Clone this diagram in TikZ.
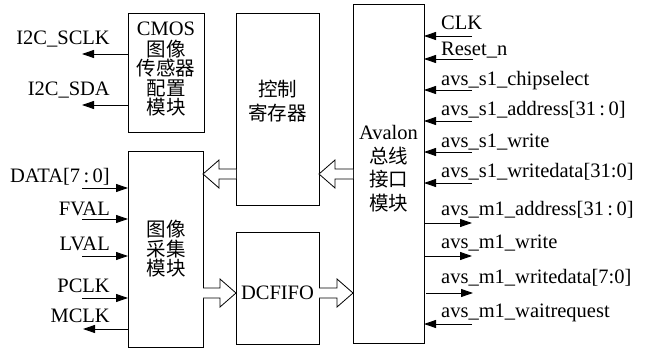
\documentclass[tikz,border=0pt]{standalone}
\usepackage{fontspec}
\setmainfont{Liberation Serif}
\newfontfamily\cjkf{Noto Sans CJK SC}
\usetikzlibrary{arrows.meta,calc}
\newcommand\fs{\fontsize{20.5}{19.5}\selectfont}
\newcommand\fsw{\fontsize{20.5}{23.5}\selectfont}
\newcommand\cjk{\cjkf\fontsize{19.5}{19.5}\selectfont}
\newcommand\cjkw{\cjkf\fontsize{19.5}{23.5}\selectfont}
% #1 tail, #2 tip, #3 head length (signed, toward tail)
\newcommand\fatarrow[3]{%
  \draw[line width=0.8pt, fill=white]
    ($(#1)+(0,5)$) -- ($(#2)+(#3,5)$) -- ($(#2)+(#3,14)$) -- (#2)
    -- ($(#2)+(#3,-14)$) -- ($(#2)+(#3,-5)$) -- ($(#1)+(0,-5)$);}
\begin{document}
\begin{tikzpicture}[x=1pt,y=-1pt,
  box/.style={draw, line width=0.9pt, inner sep=0pt, outer sep=0pt},
  sig/.style={line width=0.9pt, -{Triangle[length=12pt,width=8pt]}},
  lbl/.style={inner sep=0pt, font=\fs},
  btxt/.style={inner sep=0pt, font=\fs, align=center},
  wtxt/.style={inner sep=0pt, font=\fsw, align=center}]
\useasboundingbox (0,0) rectangle (651,348);
% boxes
\node[box, minimum width=76pt, minimum height=119pt] (cmos) at (166,72.5) {};
\node[box, minimum width=75pt, minimum height=196pt] (cap) at (165.5,249) {};
\node[box, minimum width=83pt, minimum height=192pt] (ctrl) at (277.5,109) {};
\node[box, minimum width=83pt, minimum height=112pt] (fifo) at (277.5,288) {};
\node[box, minimum width=71pt, minimum height=339pt] (aval) at (388.5,173.5) {};
% hollow arrows
\coordinate (ha) at (0,174);
\coordinate (hb) at (0,293);
\fatarrow{ctrl.west |- ha}{cap.east |- ha}{16}
\fatarrow{aval.west |- ha}{ctrl.east |- ha}{16}
\fatarrow{cap.east |- hb}{fifo.west |- hb}{-16}
\fatarrow{fifo.east |- hb}{aval.west |- hb}{-16}
% box texts
\node[btxt] (cmost) at (166,69.5) {CMOS\\[1pt] \cjk 图像\\ \cjk 传感器\\ \cjk 配置\\ \cjk 模块};
\node[btxt] (capt) at (166,249) {\cjk 图像\\ \cjk 采集\\ \cjk 模块};
\node[wtxt] (ctrlt) at (277.5,101) {\cjkw 控制\\ \cjkw 寄存器};
\node[btxt] (fifot) at (277.5,293) {DCFIFO};
\node[wtxt] (avalt) at (388.5,168.5) {Avalon\\ \cjkw 总线\\ \cjkw 接口\\ \cjkw 模块};
% left signals
\coordinate (sclk) at (82,54);
\coordinate (sda) at (82,105);
\coordinate (data) at (82,188);
\coordinate (fval) at (82,219);
\coordinate (lval) at (82,256);
\coordinate (pclk) at (82,298);
\coordinate (mclk) at (83,329);
\draw[sig] (cmos.west |- sclk) -- (sclk);
\draw[sig] (cmos.west |- sda) -- (sda);
\draw[sig] (data) -- (data -| cap.west);
\draw[sig] (fval) -- (fval -| cap.west);
\draw[sig] (lval) -- (lval -| cap.west);
\draw[sig] (pclk) -- (pclk -| cap.west);
\draw[sig] (cap.west |- mclk) -- (mclk);
\node[lbl, anchor=base east] at (110,45) {I2C\_SCLK};
\node[lbl, anchor=base east] at (110,95) {I2C\_SDA};
\node[lbl, anchor=base east] at (110,182) {DATA[7\,:\,0]};
\node[lbl, anchor=base east] at (110,215) {FVAL};
\node[lbl, anchor=base east] at (110,250) {LVAL};
\node[lbl, anchor=base east] at (110,292) {PCLK};
\node[lbl, anchor=base east] at (110,322) {MCLK};
% right signals
\coordinate (clk) at (472,36);
\coordinate (rst) at (473,59);
\coordinate (cs) at (472,90);
\coordinate (sadr) at (472,121);
\coordinate (swr) at (472,152);
\coordinate (swd) at (472,183);
\coordinate (madr) at (472,223);
\coordinate (mwr) at (472,256);
\coordinate (mwd) at (473,293);
\coordinate (mwait) at (472,324);
\draw[sig] (clk) -- (clk -| aval.east);
\draw[sig] (rst) -- (rst -| aval.east);
\draw[sig] (cs) -- (cs -| aval.east);
\draw[sig] (sadr) -- (sadr -| aval.east);
\draw[sig] (swr) -- (swr -| aval.east);
\draw[sig] (swd) -- (swd -| aval.east);
\draw[sig] (aval.east |- madr) -- (madr);
\draw[sig] (aval.east |- mwr) -- (mwr);
\draw[sig] ([xshift=2pt]aval.east |- mwd) -- (mwd);
\draw[sig] (mwait) -- (mwait -| aval.east);
\node[lbl, anchor=base west] at (441,30) {CLK};
\node[lbl, anchor=base west] at (441,55) {Reset\_n};
\node[lbl, anchor=base west] at (441,85) {avs\_s1\_chipselect};
\node[lbl, anchor=base west] at (441,115) {avs\_s1\_address[31\,:\,0]};
\node[lbl, anchor=base west] at (441,147) {avs\_s1\_write};
\node[lbl, anchor=base west] at (441,177) {avs\_s1\_writedata[31:0]};
\node[lbl, anchor=base west] at (441,215) {avs\_m1\_address[31\,:\,0]};
\node[lbl, anchor=base west] at (441,248) {avs\_m1\_write};
\node[lbl, anchor=base west] at (441,283) {avs\_m1\_writedata[7:0]};
\node[lbl, anchor=base west] at (441,317) {avs\_m1\_waitrequest};
\end{tikzpicture}
\end{document}
